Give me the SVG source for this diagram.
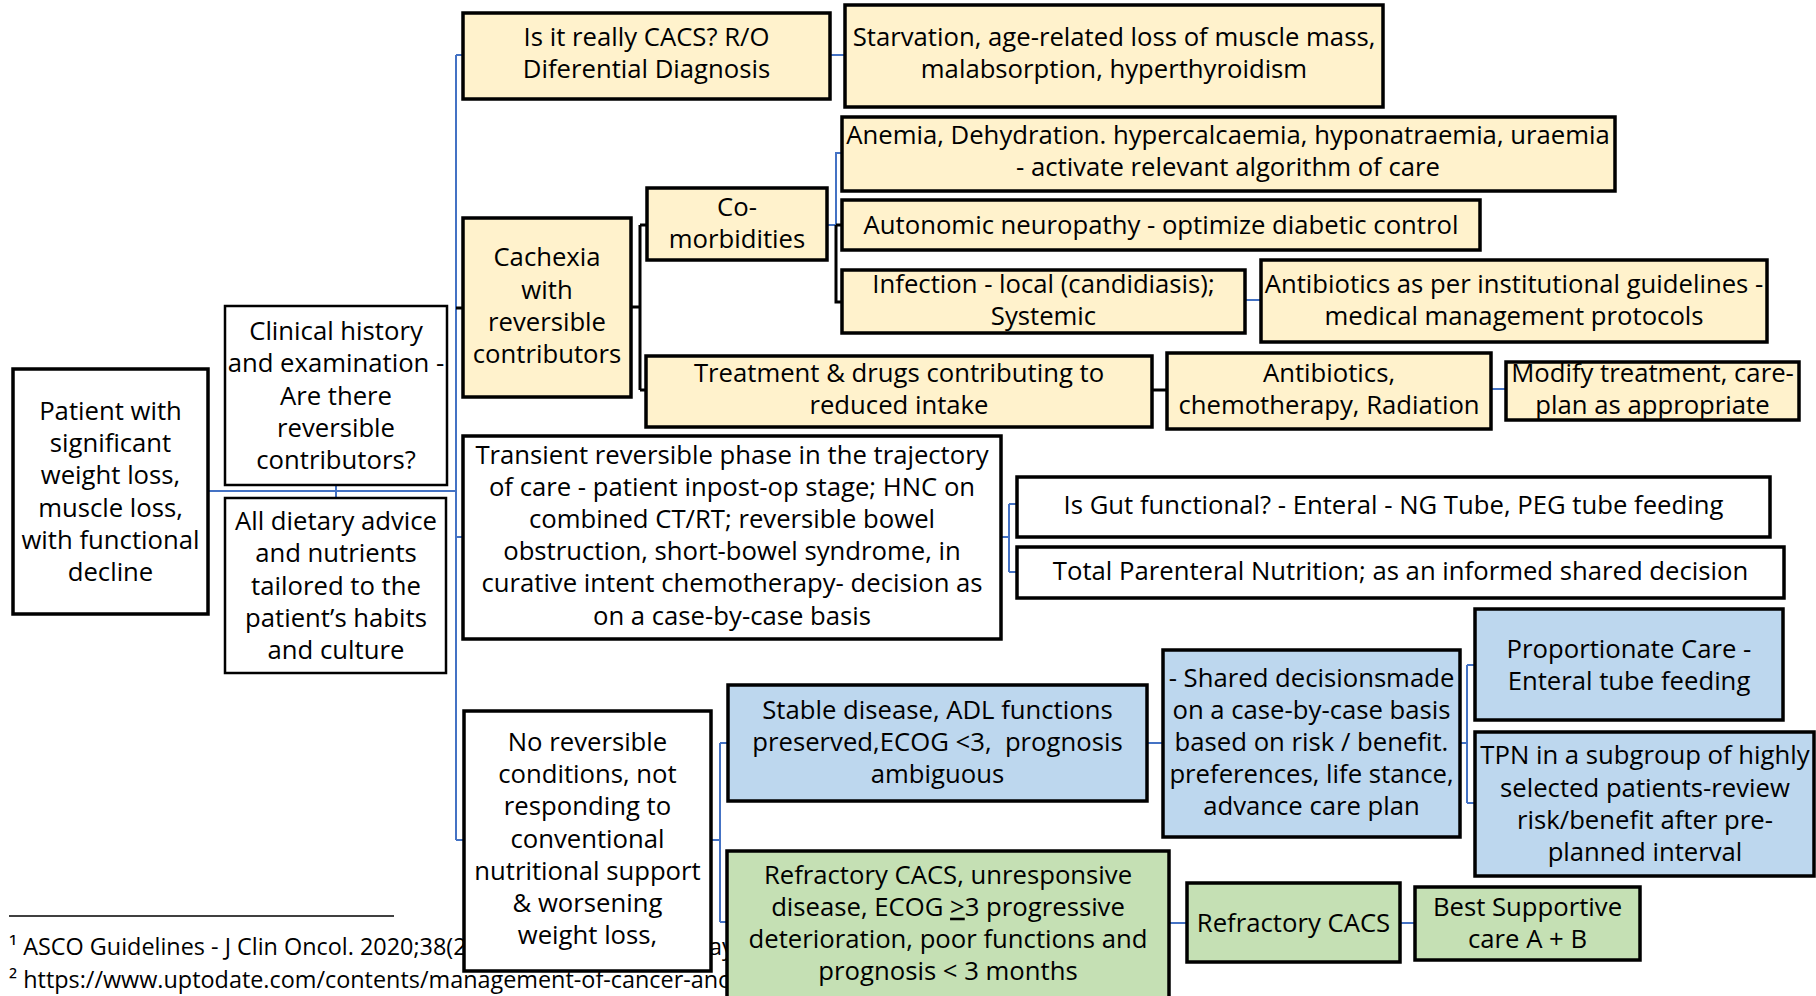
<svg xmlns="http://www.w3.org/2000/svg" width="1816" height="996" viewBox="0 0 1816 996">
<style>
text{font-family:"Open Sans","Liberation Sans",sans-serif;font-size:25.7px;fill:#000;text-anchor:middle}
.fn{font-size:23.4px;text-anchor:start}
.y{fill:#FFF2CC;stroke:#000;stroke-width:3.5}
.b{fill:#BDD7EE;stroke:#000;stroke-width:3.5}
.g{fill:#C5E0B4;stroke:#000;stroke-width:3.5}
.w{fill:#fff;stroke:#000;stroke-width:3.5}
.wt{fill:#fff;stroke:#000;stroke-width:2.5}
.cb{fill:none;stroke:#4472C4;stroke-width:2}
.ck{fill:none;stroke:#000;stroke-width:3}
</style>
<g id="footnotes">
<line x1="9" y1="916" x2="394" y2="916" stroke="#000" stroke-width="1.5"/>
<text class="fn" x="9" y="955">¹ ASCO Guidelines - J Clin Oncol. 2020;38(2<tspan x="709">ay</tspan></text>
<text class="fn" x="9" y="988">² https://www.uptodate.com/contents/management-of-cancer-ano</text>
</g>
<g id="connectors">
<path class="cb" d="M208 491H456M456 55V840M456 55H463M456 537H463M456 840H464M336 485V498"/>
<path class="ck" d="M456 308H463"/>
<path class="cb" d="M830 55H845M827 225H836V153H843M1245 300H1261M1491 389H1506"/>
<path class="ck" d="M631 307H640M640 225V390M640 225H647M640 390H646M836 225V302H842M836 225H842M1152 390H1167"/>
<path class="cb" d="M1001 537H1009M1009 504V572M1009 504H1017M1009 572H1017"/>
<path class="cb" d="M711 840H720M720 743V922M720 743H728M720 922H727M1147 743H1163M1460 743H1467M1467 665V803M1467 665H1475M1467 803H1475M1169 923H1187M1400 923H1415"/>
</g>
<g id="n-patient"><rect class="w" x="13" y="369" width="195" height="245"/>
<text x="110.5" y="420">Patient with</text><text x="110.5" y="452.2">significant</text><text x="110.5" y="484.4">weight loss,</text><text x="110.5" y="516.6">muscle loss,</text><text x="110.5" y="548.8">with functional</text><text x="110.5" y="581">decline</text></g>
<g id="n-clinical"><rect class="wt" x="225" y="306" width="222" height="179"/>
<text x="336" y="340.1">Clinical history</text><text x="336" y="372.3">and examination -</text><text x="336" y="404.5">Are there</text><text x="336" y="436.7">reversible</text><text x="336" y="468.9">contributors?</text></g>
<g id="n-dietary"><rect class="wt" x="225" y="498" width="221" height="175"/>
<text x="336" y="530.1">All dietary advice</text><text x="336" y="562.3">and nutrients</text><text x="336" y="594.5">tailored to the</text><text x="336" y="626.7">patient’s habits</text><text x="336" y="658.9">and culture</text></g>
<g id="n-cacs"><rect class="y" x="463" y="13" width="367" height="86"/>
<text x="646.5" y="46.2">Is it really CACS? R/O</text><text x="646.5" y="78.4">Diferential Diagnosis</text></g>
<g id="n-starvation"><rect class="y" x="845" y="5" width="538" height="102"/>
<text x="1114" y="46.2">Starvation, age-related loss of muscle mass,</text><text x="1114" y="78.4">malabsorption, hyperthyroidism</text></g>
<g id="n-anemia"><rect class="y" x="842" y="117" width="773" height="74"/>
<text x="1228" y="143.9">Anemia, Dehydration. hypercalcaemia, hyponatraemia, uraemia</text><text x="1228" y="176.1">- activate relevant algorithm of care</text></g>
<g id="n-autonomic"><rect class="y" x="842" y="200" width="638" height="50"/>
<text x="1161" y="234">Autonomic neuropathy - optimize diabetic control</text></g>
<g id="n-infection"><rect class="y" x="842" y="270" width="403" height="63"/>
<text x="1043.5" y="292.9">Infection - local (candidiasis);</text><text x="1043.5" y="325.1">Systemic</text></g>
<g id="n-antibiotics-inst"><rect class="y" x="1261" y="260" width="506" height="82"/>
<text x="1514" y="292.9">Antibiotics as per institutional guidelines -</text><text x="1514" y="325.1">medical management protocols</text></g>
<g id="n-cachexia"><rect class="y" x="463" y="218" width="168" height="179"/>
<text x="547" y="266.3">Cachexia</text><text x="547" y="298.5">with</text><text x="547" y="330.7">reversible</text><text x="547" y="362.9">contributors</text></g>
<g id="n-comorbidities"><rect class="y" x="647" y="188" width="180" height="72"/>
<text x="737" y="215.9">Co-</text><text x="737" y="248.1">morbidities</text></g>
<g id="n-treatment"><rect class="y" x="646" y="356" width="506" height="71"/>
<text x="899" y="381.5">Treatment &amp; drugs contributing to</text><text x="899" y="413.7">reduced intake</text></g>
<g id="n-antibiotics-chemo"><rect class="y" x="1167" y="353" width="324" height="76"/>
<text x="1329" y="381.5">Antibiotics,</text><text x="1329" y="413.7">chemotherapy, Radiation</text></g>
<g id="n-modify"><rect class="y" x="1506" y="362" width="293" height="58"/>
<text x="1652.5" y="381.5">Modify treatment, care-</text><text x="1652.5" y="413.7">plan as appropriate</text></g>
<g id="n-transient"><rect class="w" x="463" y="436" width="538" height="203"/>
<text x="732" y="463.5">Transient reversible phase in the trajectory</text><text x="732" y="495.7">of care - patient inpost-op stage; HNC on</text><text x="732" y="527.9">combined CT/RT; reversible bowel</text><text x="732" y="560.1">obstruction, short-bowel syndrome, in</text><text x="732" y="592.3">curative intent chemotherapy- decision as</text><text x="732" y="624.5">on a case-by-case basis</text></g>
<g id="n-gut"><rect class="w" x="1017" y="477" width="753" height="60"/>
<text x="1393.5" y="514">Is Gut functional? - Enteral - NG Tube, PEG tube feeding</text></g>
<g id="n-tpn"><rect class="w" x="1017" y="547" width="767" height="51"/>
<text x="1400.5" y="580">Total Parenteral Nutrition; as an informed shared decision</text></g>
<g id="n-noreversible"><rect class="w" x="464" y="711" width="247" height="260"/>
<text x="587.5" y="750.9">No reversible</text><text x="587.5" y="783.1">conditions, not</text><text x="587.5" y="815.3">responding to</text><text x="587.5" y="847.5">conventional</text><text x="587.5" y="879.7">nutritional support</text><text x="587.5" y="911.9">&amp; worsening</text><text x="587.5" y="944.1">weight loss,</text></g>
<g id="n-stable"><rect class="b" x="728" y="685" width="419" height="116"/>
<text x="937.5" y="718.8">Stable disease, ADL functions</text><text x="937.5" y="751" xml:space="preserve">preserved,ECOG &lt;3,  prognosis</text><text x="937.5" y="783.2">ambiguous</text></g>
<g id="n-shared"><rect class="b" x="1163" y="650" width="297" height="187"/>
<text x="1311.5" y="686.6">- Shared decisionsmade</text><text x="1311.5" y="718.8">on a case-by-case basis</text><text x="1311.5" y="751">based on risk / benefit.</text><text x="1311.5" y="783.2">preferences, life stance,</text><text x="1311.5" y="815.4">advance care plan</text></g>
<g id="n-proportionate"><rect class="b" x="1475" y="609" width="308" height="111"/>
<text x="1629" y="657.6">Proportionate Care -</text><text x="1629" y="689.8">Enteral tube feeding</text></g>
<g id="n-tpnsub"><rect class="b" x="1475" y="732" width="339" height="144"/>
<text x="1645" y="764.4">TPN in a subgroup of highly</text><text x="1645" y="796.6">selected patients-review</text><text x="1645" y="828.8">risk/benefit after pre-</text><text x="1645" y="861">planned interval</text></g>
<g id="n-refractory-unresp"><rect class="g" x="727" y="851" width="442" height="160"/>
<text x="948" y="883.5">Refractory CACS, unresponsive</text><text x="948" y="915.7">disease, ECOG <tspan text-decoration="underline">&gt;</tspan>3 progressive</text><text x="948" y="947.9">deterioration, poor functions and</text><text x="948" y="980.1">prognosis &lt; 3 months</text></g>
<g id="n-refractory"><rect class="g" x="1187" y="883" width="213" height="79"/>
<text x="1293.5" y="932">Refractory CACS</text></g>
<g id="n-bsc"><rect class="g" x="1415" y="887" width="225" height="73"/>
<text x="1527.5" y="916">Best Supportive</text><text x="1527.5" y="948">care A + B</text></g>
</svg>
